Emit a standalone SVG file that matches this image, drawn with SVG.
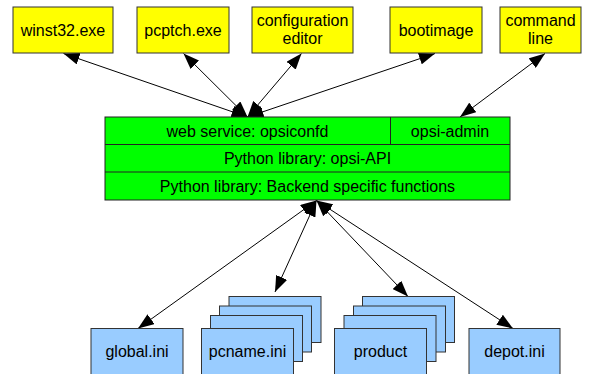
<svg xmlns="http://www.w3.org/2000/svg" width="594" height="374" viewBox="0 0 594 374">
<style>
text{font-family:"Liberation Sans",Arial,sans-serif;font-size:16px;fill:#000;text-anchor:middle}
.y{fill:#ffff00;stroke:#333;stroke-width:1}
.g{fill:#00ff00;stroke:#222;stroke-width:1}
.b{fill:#99ccff;stroke:#333;stroke-width:1}
.c{stroke:#000;stroke-width:1;fill:none;marker-start:url(#ah);marker-end:url(#ah)}
</style>
<defs>
<marker id="ah" markerUnits="userSpaceOnUse" markerWidth="16" markerHeight="12" refX="16" refY="6" orient="auto-start-reverse">
<path d="M0,0 L16,6 L0,12 z" fill="#000"/>
</marker>
</defs>
<rect width="594" height="374" fill="#fff"/>
<g id="connectors">
<line class="c" x1="247.5" y1="117" x2="63.5" y2="53.5"/>
<line class="c" x1="247.5" y1="117" x2="183.5" y2="53.5"/>
<line class="c" x1="247.5" y1="117" x2="301.5" y2="53.5"/>
<line class="c" x1="247.5" y1="117" x2="435" y2="53.5"/>
<line class="c" x1="460" y1="117" x2="545" y2="53.5"/>
<line class="c" x1="316.5" y1="200.5" x2="138" y2="328.5"/>
<line class="c" x1="316.5" y1="200.5" x2="275" y2="292"/>
<line class="c" x1="316.5" y1="200.5" x2="408" y2="296.5"/>
<line class="c" x1="316.5" y1="200.5" x2="513" y2="328.5"/>
</g>
<g id="winst32">
<rect class="y" x="13" y="7" width="100" height="46"/>
<text x="63" y="35.5">winst32.exe</text>
</g>
<g id="pcptch">
<rect class="y" x="137" y="7" width="92" height="46"/>
<text x="183" y="35.5">pcptch.exe</text>
</g>
<g id="configeditor">
<rect class="y" x="252" y="7" width="101" height="46"/>
<text x="302.5" y="26">configuration</text>
<text x="302.5" y="44">editor</text>
</g>
<g id="bootimage">
<rect class="y" x="390" y="7" width="92" height="46"/>
<text x="436" y="35.5">bootimage</text>
</g>
<g id="commandline">
<rect class="y" x="500" y="7" width="81" height="46"/>
<text x="540.5" y="26">command</text>
<text x="540.5" y="44">line</text>
</g>
<g id="server">
<rect class="g" x="105" y="117" width="405" height="83"/>
<line x1="105" y1="144.5" x2="510" y2="144.5" stroke="#222"/>
<line x1="105" y1="172" x2="510" y2="172" stroke="#222"/>
<line x1="390.5" y1="117" x2="390.5" y2="144.5" stroke="#222"/>
<text x="247.5" y="136.5">web service: opsiconfd</text>
<text x="450" y="136.5">opsi-admin</text>
<text x="307.5" y="164">Python library: opsi-API</text>
<text x="307.5" y="191.5">Python library: Backend specific functions</text>
</g>
<g id="globalini">
<rect class="b" x="91" y="328.5" width="92" height="46"/>
<text x="137" y="357">global.ini</text>
</g>
<g id="pcnameini">
<rect class="b" x="229" y="296.5" width="92" height="46"/>
<rect class="b" x="219.5" y="306" width="92" height="46"/>
<rect class="b" x="210.5" y="315.5" width="92" height="46"/>
<rect class="b" x="201.5" y="328.5" width="92" height="46"/>
<text x="247.5" y="357">pcname.ini</text>
</g>
<g id="product">
<rect class="b" x="362.5" y="296.5" width="92" height="46"/>
<rect class="b" x="353.5" y="306" width="92" height="46"/>
<rect class="b" x="344" y="315.5" width="92" height="46"/>
<rect class="b" x="334.5" y="328.5" width="92" height="46"/>
<text x="380.5" y="357">product</text>
</g>
<g id="depotini">
<rect class="b" x="469" y="328.5" width="91" height="46"/>
<text x="514.5" y="357">depot.ini</text>
</g>
</svg>
